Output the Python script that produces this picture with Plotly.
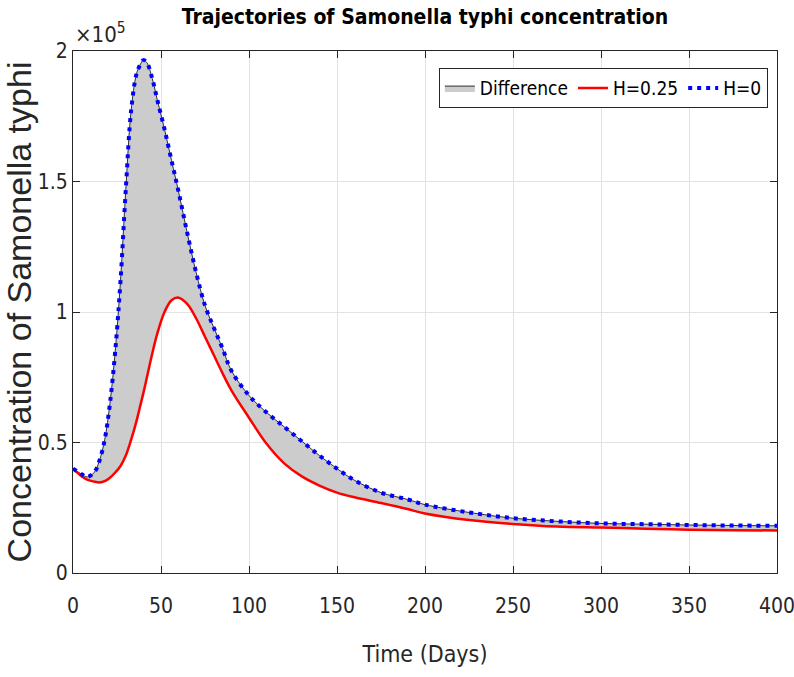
import plotly.graph_objects as go

# ---- data (time in days, concentration in cells) ----
time_days = [0, 5, 8, 12, 15, 18, 21, 24, 27, 30, 33, 36, 38, 40, 42, 45, 48, 52, 56, 60,
             65, 70, 75, 80, 85, 90, 100, 110, 120, 130, 140, 150, 160, 175, 190, 200,
             225, 250, 275, 300, 325, 350, 375, 400]

conc_H0 = [40000, 37800, 36800, 38500, 43000, 51000, 65000, 85000, 112000, 147000, 177000, 191000,
           194500, 196500, 195500, 189500, 181000, 170000, 158000, 146000,
           130000, 115000, 102500, 94000, 86000, 77500, 68000, 61500, 56000, 50500, 45000, 40000,
           35500, 30800, 28200, 26200, 23200, 21000, 19800, 19000, 18700, 18400, 18200, 18100]

conc_H025 = [40000, 37000, 35800, 35000, 34700, 35200, 36500, 38500, 41000, 45000, 51000, 58000,
             63500, 69000, 75000, 84000, 92000, 100000, 104500, 105500,
             103000, 97500, 90500, 83500, 76500, 70000, 59500, 49500, 42000, 37000, 33500, 30800,
             29000, 26800, 24500, 22800, 20300, 18800, 17800, 17400, 17000, 16600, 16400, 16300]

x_ticks = [0, 50, 100, 150, 200, 250, 300, 350, 400]
y_ticks = [0, 50000, 100000, 150000, 200000]
y_tick_text = ["0", "0.5", "1", "1.5", "2"]

NARROW = "DejaVu Sans Condensed, Liberation Sans Narrow, sans-serif"
AXC = "#262626"

fig = go.Figure()

# filled difference region (with thin black patch edge)
fig.add_trace(go.Scatter(x=time_days, y=conc_H025, mode="lines",
                         line=dict(color="black", width=0.8, shape="spline"),
                         showlegend=False, hoverinfo="skip"))
fig.add_trace(go.Scatter(x=time_days, y=conc_H0, mode="lines", fill="tonexty",
                         fillcolor="#cccccc",
                         line=dict(color="black", width=0.8, shape="spline"),
                         name="Difference"))
# H=0.25 solid red
fig.add_trace(go.Scatter(x=time_days, y=conc_H025, mode="lines",
                         line=dict(color="#ff0000", width=2.5, shape="spline"),
                         name="H=0.25"))
# H=0 dotted blue
fig.add_trace(go.Scatter(x=time_days, y=conc_H0, mode="lines",
                         line=dict(color="#0000ff", width=4, shape="spline", dash="4px,5px"),
                         name="H=0"))

fig.update_layout(
    width=794, height=677,
    margin=dict(l=73, r=17, t=51, b=104, autoexpand=False),
    paper_bgcolor="white", plot_bgcolor="white",
    title=dict(text="<b>Trajectories of Samonella typhi concentration</b>",
               x=(73 + 777) / 2 / 794, xanchor="center", y=1 - 17 / 677, yanchor="middle",
               font=dict(family=NARROW, size=21, color="black")),
    showlegend=True,
    legend=dict(orientation="h", x=0.987, xanchor="right", y=0.967, yanchor="top",
                traceorder="normal",
                bgcolor="white", bordercolor=AXC, borderwidth=1,
                font=dict(family=NARROW, size=19, color="black"),
                itemwidth=30),
    xaxis=dict(range=[0, 400], tickvals=x_ticks, showgrid=True, gridcolor="#e3e3e3",
               showline=True, linecolor=AXC, linewidth=1, mirror="ticks",
               ticks="inside", ticklen=7, tickcolor=AXC, zeroline=False, automargin=False,
               ticklabeloverflow="allow", ticklabelstandoff=14,
               tickfont=dict(family=NARROW, size=21, color=AXC),
               title=dict(text="Time (Days)", font=dict(family=NARROW, size=23, color=AXC),
                          standoff=28)),
    yaxis=dict(range=[0, 200000], tickvals=y_ticks, ticktext=y_tick_text, showgrid=True,
               gridcolor="#e3e3e3", showline=True, linecolor=AXC, linewidth=1, mirror="ticks",
               ticks="inside", ticklen=7, tickcolor=AXC, zeroline=False, automargin=False,
               ticklabeloverflow="allow",
               tickfont=dict(family=NARROW, size=21, color=AXC),
               title=dict(text="Concentration of Samonella typhi",
                          font=dict(family="Liberation Sans, Arial, sans-serif", size=34, color=AXC),
                          standoff=2)),
    annotations=[dict(text="×10<sup>5</sup>", xref="paper", yref="paper", x=0, y=1,
                      xanchor="left", yanchor="bottom", yshift=2, showarrow=False,
                      font=dict(family=NARROW, size=22, color=AXC))],
)

fig.write_html("out.html")
